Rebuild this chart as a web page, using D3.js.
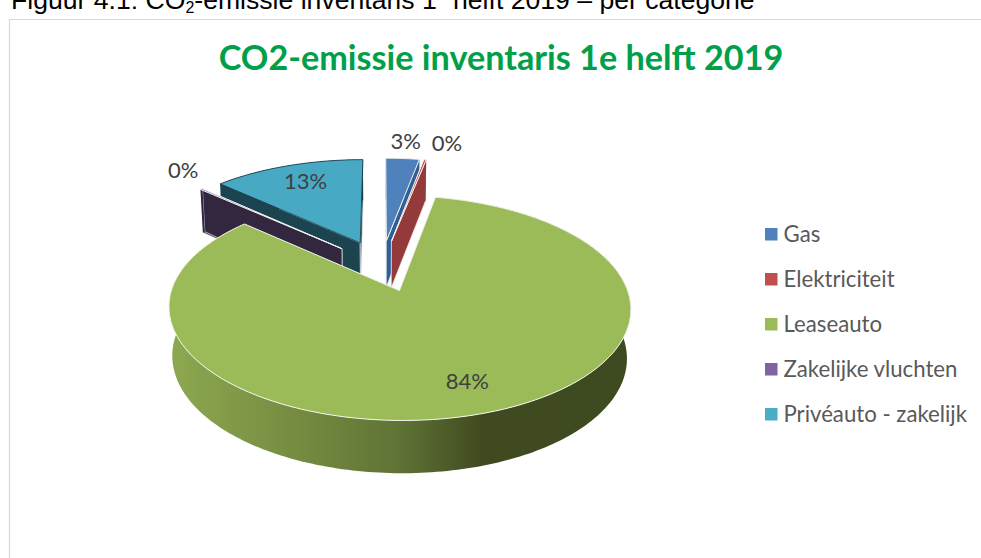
<!DOCTYPE html>
<html><head><meta charset="utf-8">
<script src="https://cdn.jsdelivr.net/npm/d3@7"></script>
<style>html,body{margin:0;padding:0;background:#fff;overflow:hidden}svg{display:block}</style>
</head><body><svg id="c" width="981" height="558"></svg>
<script>
const categories = ["Gas","Elektriciteit","Leaseauto","Zakelijke vluchten","Privéauto - zakelijk"];
const shares = [2.9,0.2,83.6,0.2,13.1];
const legendColors = ["#4f81bd","#c0504d","#9bbb59","#8064a2","#4bacc6"];
const topColors = ["#4f81bd","#c0504d","#9bbb59","#8064a2","#48a9c4"];
const wallColors = ["#2f5f95","#953a3b","url(#sideGreen)","#33263f","#1c4450"];
const titleText = "CO2-emissie inventaris 1e helft 2019";

const view = {cx:381.5, cy:265.5, a:220, b:102, k:0.15, m:0.015, d0:47.5, d1:6.5, explode:0.25};
const labelPolar = [[1.22,0],[1.23,4],[0.79,-0.4],[1.24,3.6],[0.75,0.6]];

const svg = d3.select("#c");
const defs = svg.append("defs");
const g = defs.append("linearGradient").attr("id","sideGreen").attr("gradientUnits","userSpaceOnUse")
  .attr("x1",172).attr("x2",627).attr("y1",0).attr("y2",0);
[[0,"#8ca84f"],[0.3,"#73893f"],[0.5,"#5f7335"],[0.68,"#404a20"],[1,"#3e4a20"]]
  .forEach(s=>g.append("stop").attr("offset",s[0]).attr("stop-color",s[1]));

// page caption and chart frame
const cap = svg.append("text").attr("x",11).attr("y",9).attr("font-family","Liberation Sans")
  .attr("font-size",26.6).attr("fill","#000");
cap.append("tspan").text("Figuur 4.1: CO");
cap.append("tspan").attr("font-size",16).attr("dy",4).text("2");
cap.append("tspan").attr("dy",-4).text("-emissie inventaris 1");
cap.append("tspan").attr("font-size",16).attr("dy",-9).text("e");
cap.append("tspan").attr("dy",9).text(" helft 2019 – per categorie");
svg.append("path").attr("d",d3.line()([[9.5,558],[9.5,19.5],[981,19.5]])).attr("fill","none").attr("stroke","#d9d9d9").attr("stroke-width",1.2);

svg.append("text").attr("x",501).attr("y",70).attr("text-anchor","middle").attr("font-family","Lato")
  .attr("font-weight",700).attr("font-size",34.2).attr("fill","#00a04a").text(titleText);

// pie geometry via d3.pie, projected with perspective
const pie = d3.pie().sort(null).startAngle(0).endAngle(2*Math.PI);
const arcs = pie(shares);
function project3(u,v,deep){
  const w = 1 - view.k*v + (deep?view.m:0);
  return [view.cx + view.a*u/w, view.cy + view.b*v/w + (deep?view.d0+view.d1*v:0)];
}
function disk(arc,r,th){
  const mid=(arc.startAngle+arc.endAngle)/2;
  return [view.explode*Math.sin(mid)+r*Math.sin(th), -view.explode*Math.cos(mid)-r*Math.cos(th)];
}
const line = d3.line();
function rimAngles(arc){
  const n = Math.max(2,Math.ceil((arc.endAngle-arc.startAngle)/0.02));
  return d3.range(n+1).map(i=>arc.startAngle+(arc.endAngle-arc.startAngle)*i/n);
}
const layer = svg.append("g");
[4,3,0,1,2].forEach(i=>{
  const arc = arcs[i], ths = rimAngles(arc);
  const P=(r,t,d)=>{const [u,v]=disk(arc,r,t);return project3(u,v,d);};
  const wall=(t)=>line([P(0,t,false),P(1,t,false),P(1,t,true),P(0,t,true)])+"Z";
  const sg = layer.append("g");
  [arc.startAngle,arc.endAngle].forEach(t=>{
    sg.append("path").attr("d",wall(t)).attr("fill",i===2?"#5f7335":wallColors[i])
      .attr("stroke",i===2?"none":"#e8eef0").attr("stroke-width",0.7);
  });
  const rimTop = ths.map(t=>P(1,t,false)), rimBot = ths.map(t=>P(1,t,true)).reverse();
  sg.append("path").attr("d",line(rimTop.concat(rimBot))+"Z").attr("fill",wallColors[i]);
  sg.append("path").attr("d",line([P(0,0,false)].concat(rimTop))+"Z").attr("fill",topColors[i])
    .attr("stroke",i===4?"#15343e":"#f4f6f0").attr("stroke-width",i===4?0.8:1).attr("stroke-linejoin","round");
});

// data labels
const pct = d3.format(".0%");
arcs.forEach((arc,i)=>{
  const [r,deg]=labelPolar[i];
  const mid=(arc.startAngle+arc.endAngle)/2+deg*Math.PI/180;
  const [u,v]=disk(arc,r,mid);
  const [x,y]=project3(u,v,false);
  svg.append("text").attr("x",x).attr("y",y).attr("text-anchor","middle").attr("dominant-baseline","middle")
    .attr("font-family","Lato").attr("font-size",22).attr("fill","#404040").text(pct(arc.value/100));
});

// legend
const ly = d3.scalePoint().domain(categories).range([234,414]);
const lg = svg.append("g").selectAll("g").data(categories).join("g").attr("transform",d=>`translate(765,${ly(d)})`);
lg.append("rect").attr("x",0).attr("y",-6).attr("width",12.5).attr("height",12.5).attr("fill",(d,i)=>legendColors[i]);
lg.append("text").attr("x",18.5).attr("y",0).attr("dy","0.36em").attr("font-family","Lato").attr("font-size",22.2).attr("fill","#595959").text(d=>d);
</script></body></html>
